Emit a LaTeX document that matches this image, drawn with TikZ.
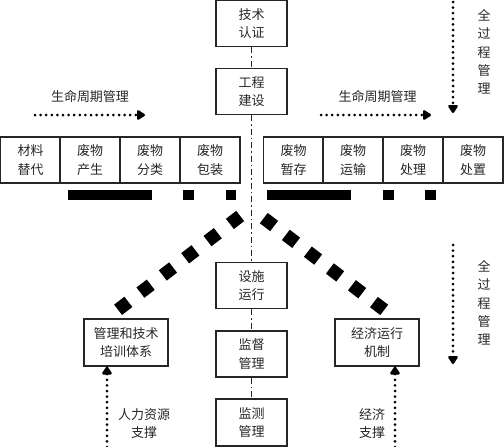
\documentclass[tikz,border=0pt]{standalone}
\usepackage{fontspec}
\newfontfamily\cjk{Noto Sans CJK SC}
\usetikzlibrary{arrows.meta}
\tikzset{
  box/.style={draw=black!85, line width=1.1pt, minimum width=#1, minimum height=46pt, inner sep=0pt, align=center, font=\cjk\fontsize{13}{18.5}\selectfont, text=black!85},
  box/.default=71pt,
  lbl/.style={align=center, inner sep=0pt, font=\cjk\fontsize{13}{18.5}\selectfont, text=black!85},
  axis/.style={line width=1.3pt, black!85, dash pattern=on 6pt off 3pt on 1.5pt off 3pt},
  dotarrow/.style={line width=3pt, line cap=round, dash pattern=on 0pt off 5.6pt, -{Triangle[length=9pt,width=11pt,round]}},
  diam/.style={line width=13pt, black},
  bar/.style={fill=black}
}
\begin{document}
\begin{tikzpicture}[x=1pt,y=-1pt]
\useasboundingbox (0,0) rectangle (504,447);
% central column
\node[box] (jsrz) at (251.5,23.5) {技术\\认证};
\node[box] (gcjs) at (251.5,91.5) {工程\\建设};
\node[box] (ssyx) at (251.5,285.5) {设施\\运行};
\node[box] (jdgl) at (251.5,354) {监督\\管理};
\node[box, minimum height=47pt] (jcgl) at (251.5,422.5) {监测\\管理};
\draw[axis] (jsrz.south) -- (gcjs.north);
\draw[axis] (gcjs.south) -- (ssyx.north);
\draw[axis] (ssyx.south) -- (jdgl.north);
\draw[axis] (jdgl.south) -- (jcgl.north);
% left row
\node[box=59.5pt] (l1) at (30.5,160) {材料\\替代};
\node[box=60pt] (l2) at (90,160) {废物\\产生};
\node[box=60pt] (l3) at (150,160) {废物\\分类};
\node[box=60pt] (l4) at (210,160) {废物\\包装};
% right row
\node[box=59.5pt] (r1) at (293.5,160) {废物\\暂存};
\node[box=60pt] (r2) at (353,160) {废物\\运输};
\node[box=60pt] (r3) at (413,160) {废物\\处理};
\node[box=60pt] (r4) at (473,160) {废物\\处置};
% bars
\fill[bar] (68,190) rectangle (152,200);
\fill[bar] (183,190) rectangle (194,200);
\fill[bar] (226,190) rectangle (236,200);
\fill[bar] (267,190) rectangle (351,200);
\fill[bar] (383,190) rectangle (394,200);
\fill[bar] (425,190) rectangle (436,200);
% lifecycle labels
\node[lbl] (lcl) at (90,97) {生命周期管理};
\coordinate (lcla) at (35,115);
\coordinate (lclb) at (145,115);
\draw[dotarrow] (lcla) -- (lclb);
\node[lbl] (lcr) at (377.5,97) {生命周期管理};
\coordinate (lcra) at (321,115);
\coordinate (lcrb) at (431,115);
\draw[dotarrow] (lcra) -- (lcrb);
% full process right
\coordinate (fpa) at (453,2);
\coordinate (fpb) at (453,113);
\draw[dotarrow] (fpa) -- (fpb);
\node[lbl, font=\cjk\fontsize{13}{18.3}\selectfont] (fpt) at (484,52) {全\\过\\程\\管\\理};
\coordinate (fqa) at (453,245);
\coordinate (fqb) at (453,364);
\draw[dotarrow] (fqa) -- (fqb);
\node[lbl, font=\cjk\fontsize{13}{18.3}\selectfont] (fqt) at (484,303) {全\\过\\程\\管\\理};
% lower boxes
\node[box=84pt, minimum height=47pt] (pxtx) at (126,342.5) {管理和技术\\培训体系};
\node[box=84pt, minimum height=47pt] (jjyx) at (377,342.5) {经济运行\\机制};
% diamond lines
\coordinate (dla) at (240.2,216);
\coordinate (dlb) at (117.8,310);
\draw[diam, dash pattern=on 13pt off 15.2pt] (dla) -- (dlb);
\coordinate (dra) at (263.8,218.1);
\coordinate (drb) at (384.2,309.9);
\draw[diam, dash pattern=on 13pt off 14.7pt] (dra) -- (drb);
% support arrows
\coordinate (sla) at (107,447);
\draw[dotarrow] (sla) -- (pxtx.south -| sla);
\node[lbl] (slt) at (144,423.5) {人力资源\\支撑};
\coordinate (sra) at (395,447);
\draw[dotarrow] (sra) -- (jjyx.south -| sra);
\node[lbl] (srt) at (372,423.5) {经济\\支撑};
\end{tikzpicture}
\end{document}
